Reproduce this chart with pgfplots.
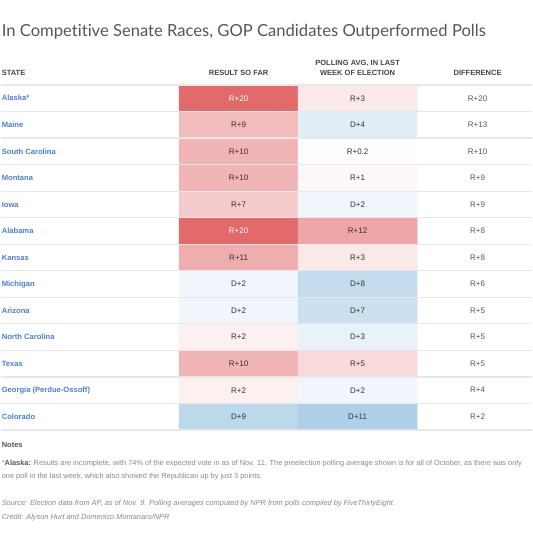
\documentclass[border=0pt]{standalone}
\usepackage{pgfplots}
\pgfplotsset{compat=1.18}
\usepackage{graphicx}
\usepackage{fontspec}
\setmainfont{Liberation Sans}
\newfontfamily\titlefont[Ligatures=NoCommon]{Lato}
\definecolor{stateblue}{HTML}{4A7DD0}
\definecolor{sepgray}{HTML}{E8E8E8}
\definecolor{valtext}{HTML}{333333}
\definecolor{difftext}{HTML}{555555}
\definecolor{headtext}{HTML}{444444}
\definecolor{titletext}{HTML}{555555}
\definecolor{notetext}{HTML}{888888}
\newcommand\cellfont{\fontsize{8bp}{9.6bp}\selectfont}
\newcommand\statefont{\fontsize{7.6bp}{9bp}\selectfont\bfseries}
\newcommand\headfont{\fontsize{7.5bp}{10.5bp}\selectfont\bfseries}
\newcommand\notefont{\fontsize{7.4bp}{8.8bp}\selectfont}
\newcommand\row[7]{%
  \node[anchor=west, font=\statefont, text=stateblue, inner sep=0pt] at (axis cs:1,{98.27+26.54*#1}) {#2};
  \node[font=\cellfont, text=#6, inner sep=0pt] at (axis cs:238,{98.27+26.54*#1}) {#3};
  \node[font=\cellfont, text=#7, inner sep=0pt] at (axis cs:357,{98.27+26.54*#1}) {#4};
  \node[font=\cellfont, text=difftext, inner sep=0pt] at (axis cs:477,{98.27+26.54*#1}) {#5};
}
\begin{document}
\begin{tikzpicture}
\begin{axis}[
  scale only axis, width=531bp, height=544bp,
  xmin=0, xmax=531, ymin=0, ymax=544, y dir=reverse,
  hide axis, clip=false,
  colormap={rb}{rgb255(0)=(106,170,213) rgb255(1)=(255,255,255) rgb255(2)=(227,106,106)},
  point meta min=-20, point meta max=20,
]
\path (axis cs:0,0) rectangle (axis cs:531,544);
\addplot[matrix plot*, mesh/cols=2, point meta=explicit] table[meta=m] {
x   y      m
238 98.27  20
357 98.27  3
238 124.81 9
357 124.81 -4
238 151.35 10
357 151.35 0.2
238 177.89 10
357 177.89 1
238 204.43 7
357 204.43 -2
238 230.97 20
357 230.97 12
238 257.51 11
357 257.51 3
238 284.05 -2
357 284.05 -8
238 310.59 -2
357 310.59 -7
238 337.13 2
357 337.13 -3
238 363.67 10
357 363.67 5
238 390.21 2
357 390.21 -2
238 416.75 -9
357 416.75 -11
};
\pgfplotsinvokeforeach{0,...,13}{
  \draw[sepgray, line width=1.2bp] (axis cs:0,{85+26.54*#1}) -- (axis cs:531,{85+26.54*#1});
}
% title
\node[anchor=base west, font=\titlefont\fontsize{16.6bp}{19bp}\selectfont, text=titletext, inner sep=0pt] at (axis cs:1,37) {In Competitive Senate Races, GOP Candidates Outperformed Polls};
% headers
\node[anchor=base west, font=\headfont, text=headtext, inner sep=0pt] at (axis cs:1,76) {STATE};
\node[anchor=base, font=\headfont, text=headtext, inner sep=0pt] at (axis cs:238,76) {RESULT SO FAR};
\node[anchor=base, font=\headfont, text=headtext, inner sep=0pt] at (axis cs:357,65.5) {POLLING AVG. IN LAST};
\node[anchor=base, font=\headfont, text=headtext, inner sep=0pt] at (axis cs:357,76) {WEEK OF ELECTION};
\node[anchor=base, font=\headfont, text=headtext, inner sep=0pt] at (axis cs:477,76) {DIFFERENCE};
% rows
\row{0}{Alaska*}{R+20}{R+3}{R+20}{white}{valtext}
\row{1}{Maine}{R+9}{D+4}{R+13}{valtext}{valtext}
\row{2}{South Carolina}{R+10}{R+0.2}{R+10}{valtext}{valtext}
\row{3}{Montana}{R+10}{R+1}{R+9}{valtext}{valtext}
\row{4}{Iowa}{R+7}{D+2}{R+9}{valtext}{valtext}
\row{5}{Alabama}{R+20}{R+12}{R+8}{white}{valtext}
\row{6}{Kansas}{R+11}{R+3}{R+8}{valtext}{valtext}
\row{7}{Michigan}{D+2}{D+8}{R+6}{valtext}{valtext}
\row{8}{Arizona}{D+2}{D+7}{R+5}{valtext}{valtext}
\row{9}{North Carolina}{R+2}{D+3}{R+5}{valtext}{valtext}
\row{10}{Texas}{R+10}{R+5}{R+5}{valtext}{valtext}
\row{11}{Georgia (Perdue-Ossoff)}{R+2}{D+2}{R+4}{valtext}{valtext}
\row{12}{Colorado}{D+9}{D+11}{R+2}{valtext}{valtext}
% notes
\node[anchor=base west, font=\headfont, text=difftext, inner sep=0pt] at (axis cs:1,447) {Notes};
\node[anchor=base west, font=\notefont, text=notetext, inner sep=0pt] at (axis cs:1,465) {*\textbf{\textcolor{difftext}{Alaska:}} Results are incomplete, with 74\% of the expected vote in as of Nov. 11. The preelection polling average shown is for all of October, as there was only};
\node[anchor=base west, font=\notefont, text=notetext, inner sep=0pt] at (axis cs:1,478.5) {one poll in the last week, which also showed the Republican up by just 3 points.};
\node[anchor=base west, font=\notefont\itshape, text=notetext, inner sep=0pt] at (axis cs:1,505) {Source: Election data from AP, as of Nov. 9. Polling averages computed by NPR from polls compiled by FiveThirtyEight.};
\node[anchor=base west, font=\notefont\itshape, text=notetext, inner sep=0pt] at (axis cs:1,519) {Credit: Alyson Hurt and Domenico Montanaro/NPR};
\end{axis}
\end{tikzpicture}
\end{document}
